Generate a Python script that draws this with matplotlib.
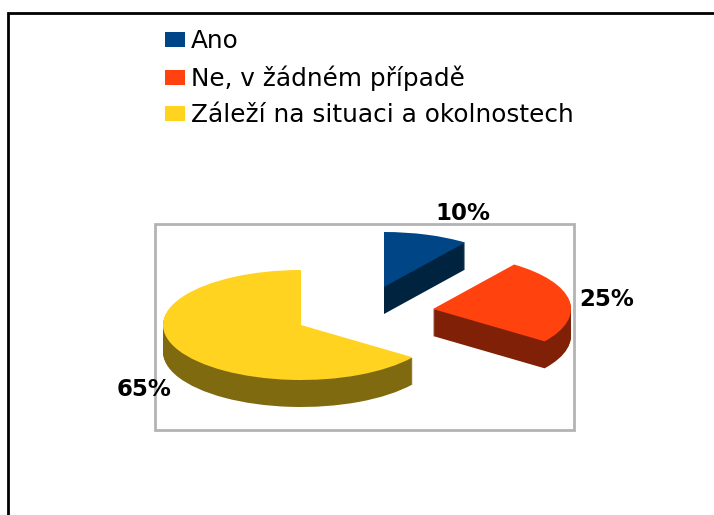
import matplotlib
matplotlib.use("Agg")
import matplotlib.pyplot as plt
from matplotlib.patches import Patch, Rectangle

labels = ["Ano", "Ne, v žádném případě", "Záleží na situaci a okolnostech"]
values = [10, 25, 65]
colors = ["#004586", "#ff420e", "#ffd320"]
side_colors = ["#00233f", "#802107", "#7f6a10"]

# slice apex in pixels of the picture, and where the % text goes
apex = [(384, 287), (433, 309), (301, 325)]
label_pos = [(463, 214), (607, 300), (144, 389)]
depth = 27
rx = 138.0
ry = 55.0
W, H = 714, 515

# reference glyphs are stretched sideways, DejaVu gets the same text widths
plt.rcParams['font.family'] = ['DejaVu Sans']

fig = plt.figure(figsize=(W / 100, H / 100), dpi=100)
ax = fig.add_axes([0, 0, 1, 1])


def px(x, y):
    # picture pixels to data units, one unit is one pie radius
    return x / rx, (H - y) / ry


start = 90
for i, v in enumerate(values):
    # side first, stacked from the bottom up, then the top
    for d in range(depth, 0, -1):
        w, _ = ax.pie([v, 100 - v], colors=[side_colors[i], "none"], startangle=start,
                      counterclock=False, center=px(apex[i][0], apex[i][1] + d))
        w[1].set_visible(False)
    w, _ = ax.pie([v, 100 - v], colors=[colors[i], "none"], startangle=start,
                  counterclock=False, center=px(apex[i][0], apex[i][1]))
    w[1].set_visible(False)
    start -= v * 3.6

ax.set_aspect('auto')
ax.set_xlim(0, W / rx)
ax.set_ylim(0, H / ry)
ax.set_axis_off()

# plot area box, behind the pie
x0, y0 = px(155, 430)
x1, y1 = px(574, 224)
ax.add_patch(Rectangle((x0, y0), x1 - x0, y1 - y0, fill=False, ec="#b3b3b3", lw=2, zorder=0))

# outer frame, left and top only show
ax.plot(*zip(px(8, H + 5), px(8, 13.5), px(W + 5, 13.5)), color="black", lw=2, zorder=5,
        solid_joinstyle="miter")
ax.set_xlim(0, W / rx)
ax.set_ylim(0, H / ry)

for i, v in enumerate(values):
    ax.text(*px(*label_pos[i]), f"{v}%", fontsize=16.5, fontweight="bold",
            ha="center", va="center", color="black", zorder=6)

handles = [Patch(facecolor=c, edgecolor="none") for c in colors]
ax.legend(handles, labels, loc="upper left", bbox_to_anchor=(165 / W, 1 - 29 / H), frameon=False,
          fontsize=17.8, handlelength=0.81, handleheight=0.57, handletextpad=0.25,
          labelspacing=0.5, borderpad=0, borderaxespad=0)

fig.savefig("out.png", dpi=100)
